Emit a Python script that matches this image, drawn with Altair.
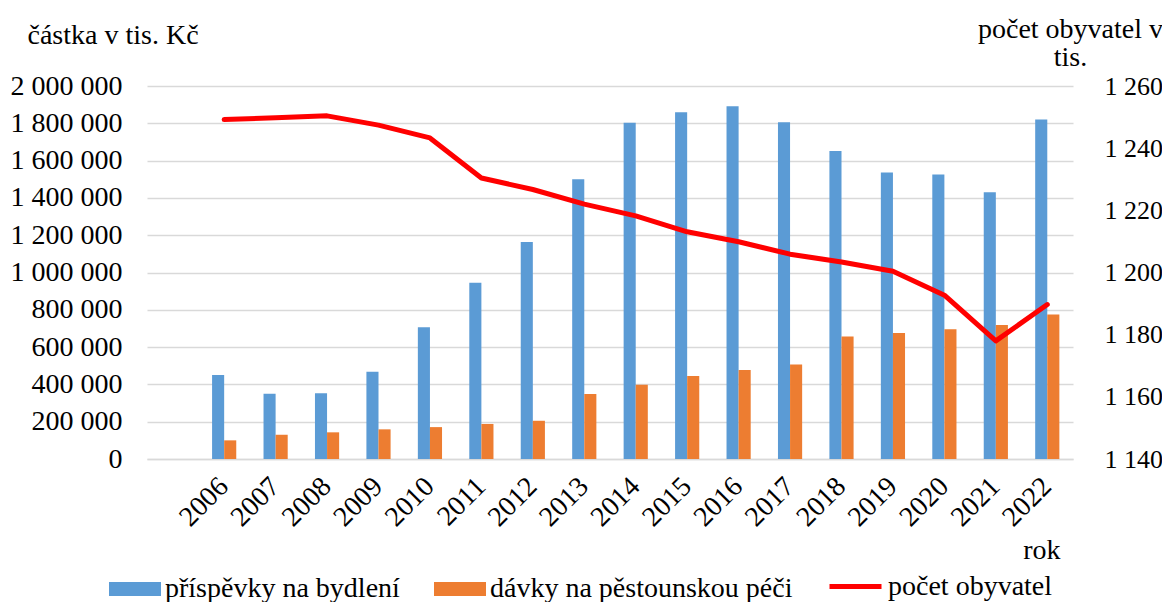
import altair as alt
import pandas as pd

# ---- data ----
years = ["2006", "2007", "2008", "2009", "2010", "2011", "2012", "2013", "2014",
         "2015", "2016", "2017", "2018", "2019", "2020", "2021", "2022"]
housing = [450000, 350000, 352000, 468000, 706000, 945000, 1164000, 1500000, 1803000,
           1859000, 1891000, 1805000, 1652000, 1536000, 1525000, 1430000, 1820000]
foster = [100000, 130000, 143000, 159000, 171000, 188000, 205000, 348000, 398000,
          445000, 477000, 507000, 657000, 675000, 696000, 718000, 775000]
population = [1249.2, 1249.8, 1250.4, 1247.4, 1243.3, 1230.4, 1226.7, 1222.0, 1218.2,
              1213.1, 1209.9, 1205.9, 1203.4, 1200.4, 1192.7, 1178.0, 1189.7]
series_names = ["příspěvky na bydlení", "dávky na pěstounskou péči"]
line_name = "počet obyvatel"
left_ticks = [0, 200000, 400000, 600000, 800000, 1000000, 1200000, 1400000, 1600000, 1800000, 2000000]
right_ticks = [1140, 1160, 1180, 1200, 1220, 1240, 1260]
x_domain = [" "] + years  # empty first category as in the reference

bar_colors = ["#5B9BD5", "#ED7D31"]
line_color = "#FF0000"
FONT = "Liberation Serif"
FS = 28
GRID = "#D9D9D9"

bars_df = pd.DataFrame({
    "rok": years + years,
    "serie": [series_names[0]] * len(years) + [series_names[1]] * len(years),
    "castka": housing + foster,
})
line_df = pd.DataFrame({"rok": years, "obyv": population, "serie": [line_name] * len(years)})

space_fmt = "replace(format(datum.value, ','), regexp(',', 'g'), ' ')"

x_scale = alt.Scale(domain=x_domain, paddingInner=0.53, paddingOuter=0.265)
x_axis = alt.Axis(
    title="rok", titleAngle=0, titleX=913, titleY=99, titleAlign="right",
    titleBaseline="alphabetic", titleFontWeight="normal",
    labelAngle=315, labelAlign="right", labelBaseline="middle", labelPadding=23,
    ticks=False, domain=True, domainColor=GRID, domainWidth=1.5, grid=False,
)

bars = alt.Chart(bars_df).mark_bar().encode(
    x=alt.X("rok:N", scale=x_scale, axis=x_axis),
    xOffset=alt.XOffset("serie:N", sort=series_names,
                        scale=alt.Scale(domain=series_names, paddingInner=0, paddingOuter=0)),
    y=alt.Y("castka:Q", scale=alt.Scale(domain=[0, 2000000]),
            axis=alt.Axis(values=left_ticks, labelExpr=space_fmt, title="částka v tis. Kč",
                          titleAngle=0, titleX=-120, titleY=-43, titleAlign="left",
                          titleBaseline="alphabetic", titleFontWeight="normal",
                          domain=False, ticks=False, grid=True, gridColor=GRID, gridWidth=1.5,
                          labelPadding=25)),
    color=alt.Color("serie:N", scale=alt.Scale(domain=series_names, range=bar_colors),
                    legend=alt.Legend(title=None, orient="none", direction="horizontal",
                                      legendX=-38, legendY=477,
                                      symbolType="M-1,-0.27H1V0.27H-1Z", symbolSize=2704,
                                      symbolStrokeWidth=0, symbolOpacity=1,
                                      labelOffset=4, columnPadding=34, padding=0, labelLimit=0)),
)

line = alt.Chart(line_df).mark_line(strokeWidth=5, strokeCap="round", strokeJoin="round").encode(
    x=alt.X("rok:N", scale=x_scale, axis=x_axis),
    y=alt.Y("obyv:Q", scale=alt.Scale(domain=[1140, 1260]),
            axis=alt.Axis(orient="right", values=right_ticks, labelExpr=space_fmt,
                          title=["počet obyvatel v", "tis."], titleAngle=0, titleX=-3, titleY=-49,
                          titleAlign="center", titleBaseline="alphabetic", titleLineHeight=28,
                          titleFontWeight="normal", domain=False, ticks=False, grid=False,
                          labelPadding=31, labelAlign="left", labelFontSize=26)),
    stroke=alt.Stroke("serie:N", scale=alt.Scale(domain=[line_name], range=[line_color]),
                      legend=alt.Legend(title=None, orient="none", direction="horizontal",
                                        legendX=680, legendY=472, symbolType="stroke",
                                        symbolSize=2704, symbolStrokeWidth=5,
                                        labelOffset=4, padding=0, labelLimit=0)),
)

chart = alt.layer(bars, line).resolve_scale(
    y="independent", color="independent"
).properties(
    width=926, height=373,
    padding={"left": 139, "top": 78, "right": 89, "bottom": 143},
    autosize=alt.AutoSizeParams(type="none"),
    background="white",
).configure_axis(
    labelFont=FONT, labelFontSize=FS, titleFont=FONT, titleFontSize=FS,
    labelColor="black", titleColor="black",
).configure_legend(
    labelFont=FONT, labelFontSize=FS, labelColor="black",
).configure_view(stroke=None)

chart.save("out.html", embed_options={"renderer": "svg", "actions": False})
